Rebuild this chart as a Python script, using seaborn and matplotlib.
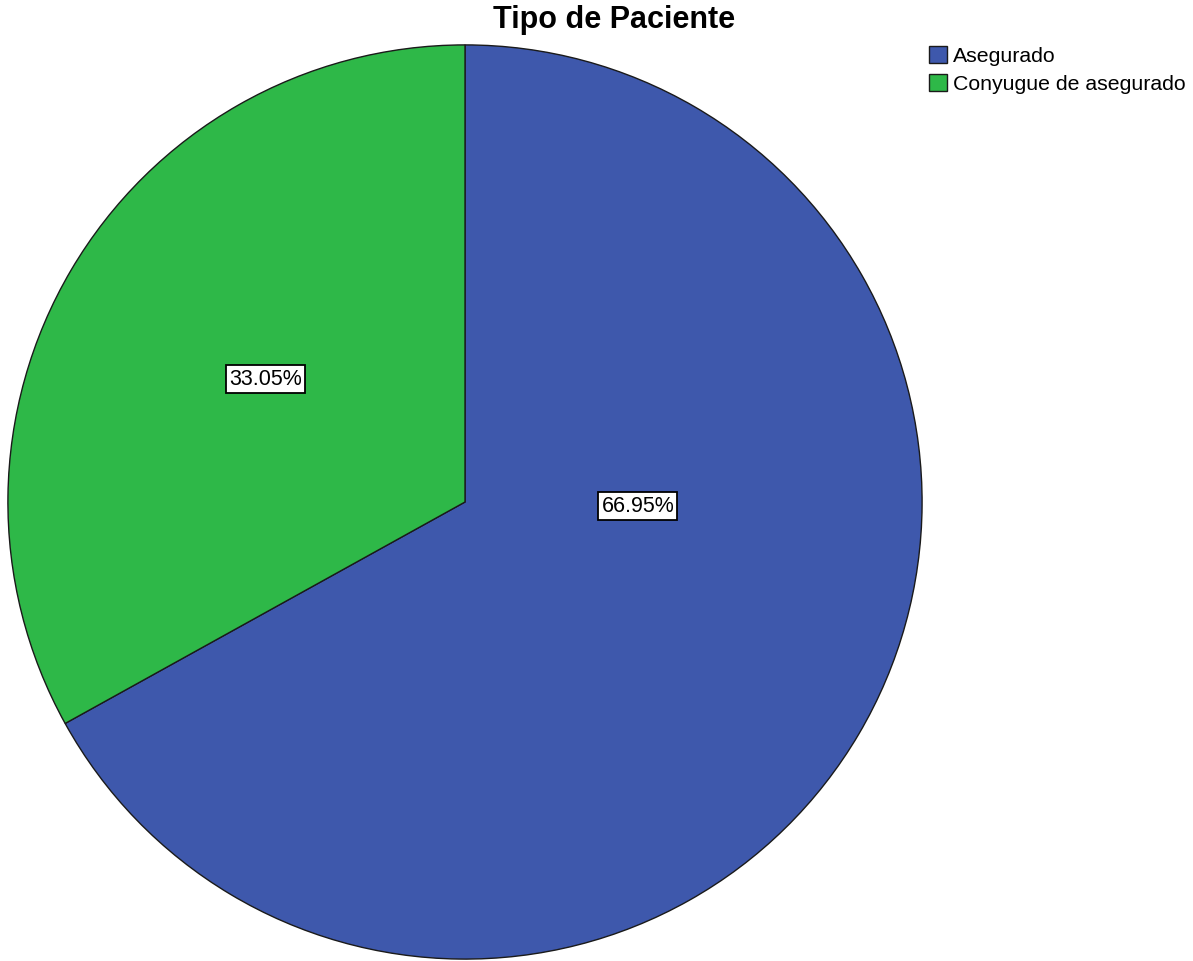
import matplotlib
matplotlib.use("Agg")
import matplotlib.pyplot as plt
import seaborn as sns

# Data
categories = ["Asegurado", "Conyugue de asegurado"]
percentages = [66.95, 33.05]
pct_labels = ["66.95%", "33.05%"]
title = "Tipo de Paciente"

colors = ["#3E58AC", "#2EB848"]

sns.set_theme(style="white")
plt.rcParams["font.family"] = ["Liberation Sans", "DejaVu Sans"]
plt.rcParams["text.color"] = "black"

W, H = 1193, 961
fig = plt.figure(figsize=(W / 100, H / 100), dpi=100)
fig.patch.set_facecolor("white")

# pie axes: circle centre (465,502) px, radius 458 px
cx, cy, r = 465, 502, 458
ax = fig.add_axes([(cx - r) / W, 1 - (cy + r) / H, 2 * r / W, 2 * r / H])

wedges, _ = ax.pie(
    percentages,
    colors=colors,
    startangle=90,
    counterclock=False,
    radius=1.0,
    wedgeprops=dict(edgecolor="#1a1a1a", linewidth=1.0),
)
ax.set_xlim(-1.002, 1.002)
ax.set_ylim(-1.002, 1.002)
ax.set_aspect("auto")
ax.axis("off")

# label positions (layout, in axes units)
label_xy = [(0.378, -0.009), (-0.437, 0.269)]
for txt, (x, y) in zip(pct_labels, label_xy):
    ax.text(
        x, y, txt, ha="center", va="center", fontsize=15.5, color="black",
        bbox=dict(boxstyle="square,pad=0.15", fc="white", ec="black", lw=1.3),
    )

fig.text(614 / W, 1 - 20 / H, title, ha="center", va="center",
         fontsize=22, fontweight="bold", color="black")

handles = [plt.Rectangle((0, 0), 1, 1, fc=c, ec="#1a1a1a", lw=1.0) for c in colors]
leg = fig.legend(
    handles, categories, loc="upper left",
    bbox_to_anchor=(929 / W, 1 - 46 / H), frameon=False, fontsize=15.3,
    handlelength=0.85, handleheight=0.85, handletextpad=0.3,
    labelspacing=0.38, borderaxespad=0, borderpad=0,
)
for t in leg.get_texts():
    t.set_color("black")

fig.savefig("out.png", dpi=100, facecolor="white")
